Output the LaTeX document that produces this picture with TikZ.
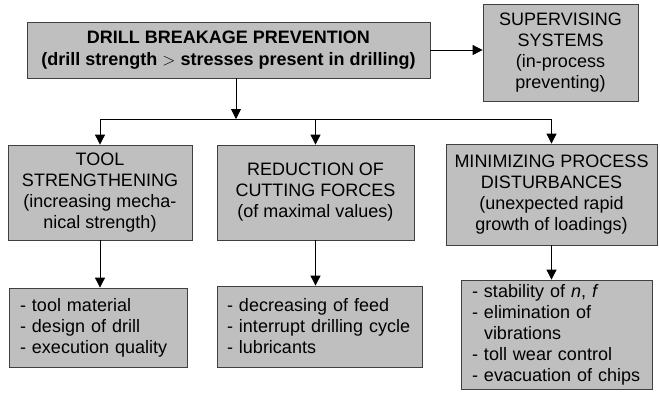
\documentclass[tikz,border=0pt]{standalone}
\usepackage{fontspec}
\setmainfont{Liberation Sans}
\usetikzlibrary{arrows.meta}
\begin{document}
\begin{tikzpicture}[x=1pt, y=-1pt, font=\fontsize{18}{21}\selectfont,
  box/.style={draw=black!75, fill=black!25, line width=0.8pt, inner sep=0pt, align=center},
  list/.style={box, align=left, inner xsep=11pt},
  arr/.style={-{Triangle[length=10pt,width=10pt]}, line width=0.8pt}]

\useasboundingbox (0,0) rectangle (660,400);

\node[box, minimum width=403pt, minimum height=56pt, font=\fontsize{18}{22}\selectfont\bfseries] (prev) at (228.5,50)
  {DRILL BREAKAGE PREVENTION\\(drill strength $>$ stresses present in drilling)};
\node[box, minimum width=155pt, minimum height=97pt] (sup) at (560.5,52.5)
  {SUPERVISING\\SYSTEMS\\(in-process\\preventing)};

\node[box, minimum width=184pt, minimum height=95pt] (tool) at (100,192.5)
  {TOOL\\STRENGTHENING\\(increasing mecha-\\nical strength)};
\node[box, minimum width=197pt, minimum height=95pt] (red) at (315.5,192.5)
  {REDUCTION OF\\CUTTING FORCES\\(of maximal values)};
\node[box, minimum width=211pt, minimum height=101pt] (min) at (551.5,194.5)
  {MINIMIZING PROCESS\\DISTURBANCES\\(unexpected rapid\\growth of loadings)};

\node[list, minimum height=79pt, text width=156pt] (toollist) at (98,327.5)
  {- tool material\\- design of drill\\- execution quality};
\node[list, minimum height=81pt, inner xsep=10pt, text width=185pt] (redlist) at (319.5,326.5)
  {- decreasing of feed\\- interrupt~drilling~cycle\\- lubricants};
\node[list, minimum height=109pt, text width=169pt] (minlist) at (556.5,334.5)
  {- stability of \textit{n}, \textit{f}\\- elimination of\\\hphantom{- }vibrations\\- toll wear control\\- evacuation of chips};

% top level
\coordinate (split) at (236,119);
\draw[arr] (prev.south -| split) -- (split);
\draw[line width=0.8pt] (tool.north |- split) -- (min.north |- split);
\draw[arr] (prev.east) -- (prev.east -| sup.west);

% second level
\draw[arr] (tool.north |- split) -- (tool.north);
\draw[arr] (red.north |- split) -- (red.north);
\draw[arr] (min.north |- split) -- (min.north);

% lists
\draw[arr] (tool.south) -- (tool.south |- toollist.north);
\draw[arr] (red.south) -- (red.south |- redlist.north);
\draw[arr] (min.south) -- (min.south |- minlist.north);
\end{tikzpicture}
\end{document}
